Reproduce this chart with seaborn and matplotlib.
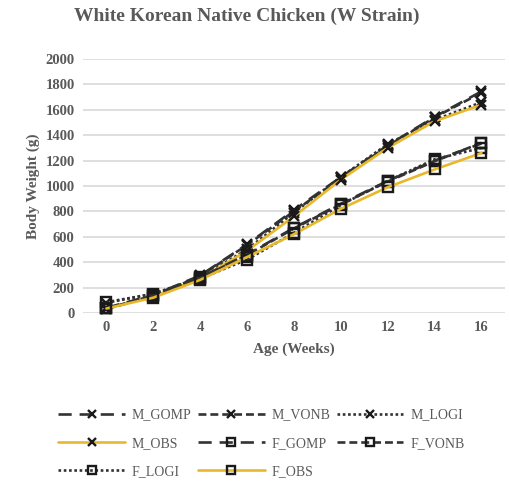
"""
White Korean Native Chicken (W strain) growth curves.
Observed body weight vs. Gompertz / von Bertalanffy / Logistic fits.
"""

import matplotlib
matplotlib.use("Agg")
import matplotlib.pyplot as plt
import seaborn as sns

# --- data ---
weeks = [0, 2, 4, 6, 8, 10, 12, 14, 16]

m_gomp = [35, 140, 295, 540, 810, 1070, 1320, 1545, 1745]
m_vonb = [30, 135, 290, 535, 800, 1060, 1315, 1540, 1735]
m_logi = [80, 150, 280, 500, 790, 1070, 1330, 1520, 1660]
m_obs = [35, 130, 270, 490, 760, 1050, 1300, 1510, 1640]

f_gomp = [40, 140, 280, 460, 670, 860, 1040, 1200, 1335]
f_vonb = [35, 135, 275, 455, 665, 855, 1035, 1195, 1340]
f_logi = [85, 150, 270, 420, 630, 850, 1040, 1210, 1300]
f_obs = [35, 120, 260, 440, 620, 820, 990, 1130, 1260]

series_names = ["M_GOMP", "M_VONB", "M_LOGI", "M_OBS",
                "F_GOMP", "F_VONB", "F_LOGI", "F_OBS"]
series_vals = [m_gomp, m_vonb, m_logi, m_obs, f_gomp, f_vonb, f_logi, f_obs]

GREY = "#595959"
DARK = "#333333"
GOLD = "#E8B82A"

styles = {
    "GOMP": dict(color=DARK, linestyle=(0, (5, 3)), linewidth=1.9),
    "VONB": dict(color=DARK, linestyle=(0, (3, 1.5)), linewidth=1.9),
    "LOGI": dict(color=DARK, linestyle=(0, (1, 1)), linewidth=1.9),
    "OBS": dict(color=GOLD, linestyle="-", linewidth=1.9),
}

sns.set_theme(style="white")
plt.rcParams["font.family"] = ["Liberation Serif", "DejaVu Serif"]

fig = plt.figure(figsize=(5.09, 4.92), dpi=100)
ax = fig.add_axes([0.163, 0.364, 0.829, 0.516])

handles = {}
for name, vals in zip(series_names, series_vals):
    sex, model = name.split("_")
    marker = "x" if sex == "M" else "s"
    st = styles[model]
    sns.lineplot(x=weeks, y=vals, ax=ax, marker=marker, markersize=7,
                 markerfacecolor="none", markeredgecolor="#1a1a1a",
                 markeredgewidth=1.7, label=name, legend=False,
                 clip_on=False, **st)
    handles[name] = ax.get_lines()[-1]

ax.set_xlim(-1, 17)
ax.set_ylim(0, 2000)
ax.set_xticks(weeks)
ax.set_yticks(range(0, 2001, 200))
ax.yaxis.grid(True, color="#d9d9d9", linewidth=1.2)
ax.set_axisbelow(True)
for sp in ax.spines.values():
    sp.set_visible(False)
ax.tick_params(axis="both", length=0, labelsize=10.5, labelcolor=GREY, pad=6)
for lab in ax.get_xticklabels() + ax.get_yticklabels():
    lab.set_fontweight("bold")

ax.set_xlabel("Age (Weeks)", fontsize=11, fontweight="bold", color=GREY, labelpad=6)
ax.set_ylabel("Body Weight (g)", fontsize=11, fontweight="bold", color=GREY, labelpad=4)
fig.suptitle("White Korean Native Chicken (W Strain)", x=0.484, y=0.985,
             fontsize=14, fontweight="bold", color=GREY)

# legend filled column-wise, so reorder to read row-wise like the original
order = ["M_GOMP", "M_OBS", "F_LOGI",
         "M_VONB", "F_GOMP", "F_OBS",
         "M_LOGI", "F_VONB"]
leg = fig.legend([handles[n] for n in order], order, ncol=3,
                 loc="upper left", bbox_to_anchor=(0.09, 0.195),
                 frameon=False, fontsize=10, handlelength=4.8,
                 columnspacing=0.45, handletextpad=0.5, labelspacing=1.1,
                 markerscale=0.85)
for t in leg.get_texts():
    t.set_color(GREY)

fig.savefig("out.png", dpi=100)
